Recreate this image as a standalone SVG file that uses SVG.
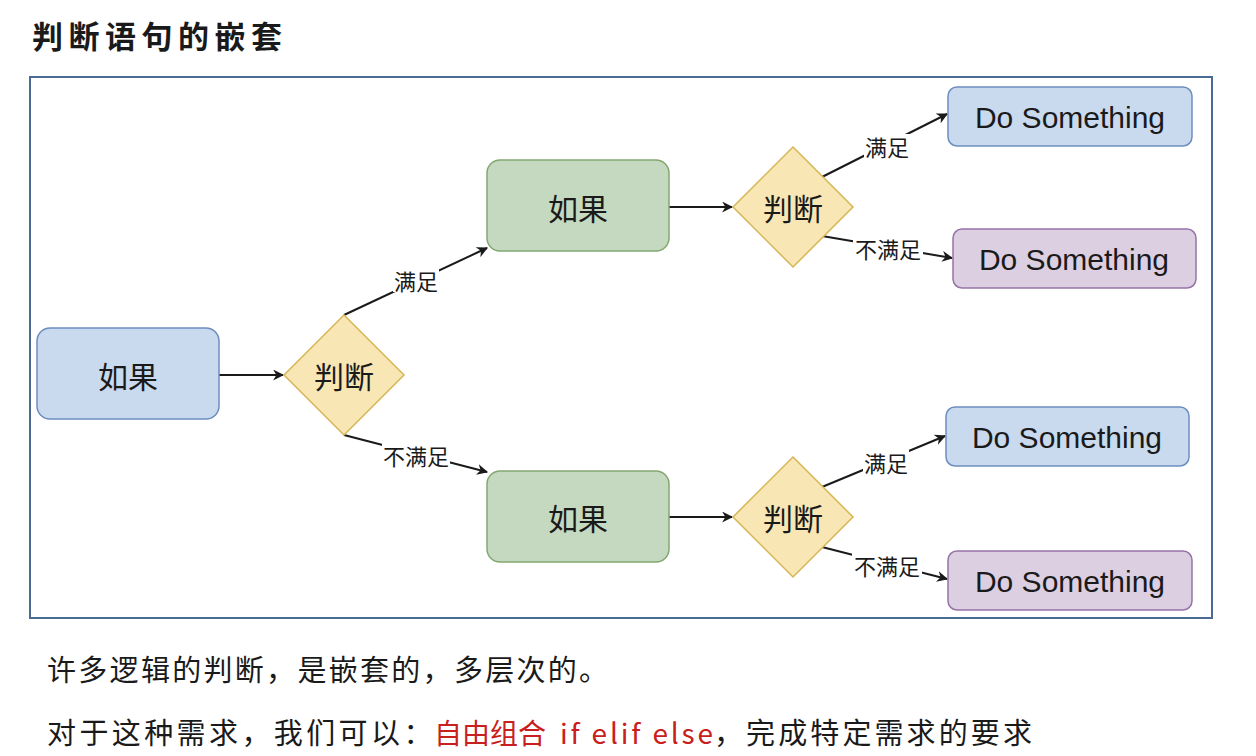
<svg xmlns="http://www.w3.org/2000/svg" width="1256" height="756" viewBox="0 0 1256 756">
<defs>
<style>
.cjk{font-family:"Noto Sans CJK SC","Noto Sans",sans-serif;}
.lat{font-family:"Liberation Sans",Arial,sans-serif;}
.blue{fill:#c9d9ee;stroke:#6c8ebf;stroke-width:1.5;}
.green{fill:#c5d9c0;stroke:#82a870;stroke-width:1.5;}
.purple{fill:#dccfe2;stroke:#9673a6;stroke-width:1.5;}
.dia{fill:#f8e6b5;stroke:#d6b656;stroke-width:1.5;}
.nt{font-size:30px;fill:#1a1a1a;text-anchor:middle;dominant-baseline:central;}
.dt{font-size:30px;fill:#1a1a1a;text-anchor:middle;dominant-baseline:central;}
.edge{stroke:#1a1a1a;stroke-width:2;fill:none;marker-end:url(#arr);}
.lbl{font-size:22px;fill:#1a1a1a;text-anchor:middle;dominant-baseline:central;}
.lblbg{fill:#ffffff;}
.body{font-size:29px;fill:#1a1a1a;}
.red{fill:#c8201c;}
</style>
<marker id="arr" viewBox="0 0 10 10" refX="9" refY="5" markerWidth="11" markerHeight="11" markerUnits="userSpaceOnUse" orient="auto">
<path d="M0,0 L10,5 L0,10 L3,5 Z" fill="#1a1a1a"/>
</marker>
</defs>
<rect width="1256" height="756" fill="#ffffff"/>
<text x="32" y="48" class="cjk" font-size="31" font-weight="bold" letter-spacing="5.5" fill="#1a1a1a">判断语句的嵌套</text>
<rect x="30" y="77" width="1182" height="541" fill="#ffffff" stroke="#4a6c94" stroke-width="2"/>

<g id="connectors">
<line class="edge" x1="219" y1="375" x2="283" y2="375"/>
<line class="edge" x1="344" y1="315" x2="487" y2="248"/>
<line class="edge" x1="344" y1="435" x2="487" y2="472"/>
<line class="edge" x1="669" y1="207" x2="732" y2="207"/>
<line class="edge" x1="669" y1="517" x2="732" y2="517"/>
<line class="edge" x1="822" y1="177" x2="947" y2="114"/>
<line class="edge" x1="822" y1="236" x2="952" y2="258"/>
<line class="edge" x1="822" y1="487" x2="945" y2="436"/>
<line class="edge" x1="822" y1="547" x2="947" y2="579"/>
<rect class="lblbg" x="393" y="268" width="46" height="24"/>
<text class="cjk lbl" x="416" y="280">满足</text>
<rect class="lblbg" x="382" y="443" width="68" height="24"/>
<text class="cjk lbl" x="416" y="455">不满足</text>
<rect class="lblbg" x="864" y="134" width="46" height="24"/>
<text class="cjk lbl" x="887" y="146">满足</text>
<rect class="lblbg" x="853" y="236" width="70" height="24"/>
<text class="cjk lbl" x="888" y="248">不满足</text>
<rect class="lblbg" x="863" y="450" width="46" height="24"/>
<text class="cjk lbl" x="886" y="462">满足</text>
<rect class="lblbg" x="852" y="553" width="70" height="24"/>
<text class="cjk lbl" x="887" y="565">不满足</text>
</g>

<g id="n_if_root">
<rect class="blue" x="37" y="328" width="182" height="91" rx="13"/>
<text class="cjk nt" x="128" y="375">如果</text>
</g>
<g id="n_judge_root">
<polygon class="dia" points="344,315 404,375 344,435 284,375"/>
<text class="cjk nt" x="344" y="375">判断</text>
</g>
<g id="n_if_top">
<rect class="green" x="487" y="160" width="182" height="91" rx="13"/>
<text class="cjk nt" x="578" y="207">如果</text>
</g>
<g id="n_if_bottom">
<rect class="green" x="487" y="471" width="182" height="91" rx="13"/>
<text class="cjk nt" x="578" y="517">如果</text>
</g>
<g id="n_judge_top">
<polygon class="dia" points="793,147 853,207 793,267 733,207"/>
<text class="cjk nt" x="793" y="207">判断</text>
</g>
<g id="n_judge_bottom">
<polygon class="dia" points="793,457 853,517 793,577 733,517"/>
<text class="cjk nt" x="793" y="517">判断</text>
</g>
<g id="n_do1">
<rect class="blue" x="948" y="87" width="244" height="59" rx="9"/>
<text class="lat dt" x="1070" y="117">Do Something</text>
</g>
<g id="n_do2">
<rect class="purple" x="953" y="229" width="243" height="59" rx="9"/>
<text class="lat dt" x="1074" y="259">Do Something</text>
</g>
<g id="n_do3">
<rect class="blue" x="946" y="407" width="243" height="59" rx="9"/>
<text class="lat dt" x="1067" y="437">Do Something</text>
</g>
<g id="n_do4">
<rect class="purple" x="948" y="551" width="244" height="59" rx="9"/>
<text class="lat dt" x="1070" y="581">Do Something</text>
</g>

<text x="47" y="681" class="cjk body" letter-spacing="2.3">许多逻辑的判断，是嵌套的，多层次的。</text>
<text y="744" class="cjk body"><tspan x="47" letter-spacing="3.4">对于这种需求，我们可以：</tspan><tspan x="434" class="red" font-size="28">自由组合</tspan><tspan x="560" class="red" font-size="28" textLength="153" lengthAdjust="spacing">if elif else</tspan><tspan x="714" letter-spacing="3.1">，完成特定需求的要求</tspan></text>
</svg>
